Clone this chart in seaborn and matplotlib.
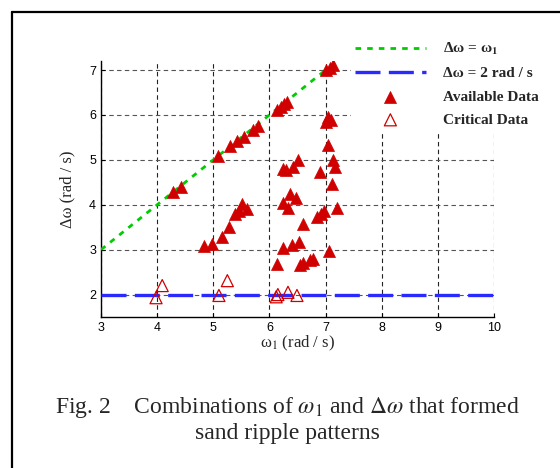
import numpy as np
import pandas as pd
import matplotlib
matplotlib.use("Agg")
import matplotlib.pyplot as plt
import seaborn as sns
from matplotlib.lines import Line2D

# data
diag_x = [4.28, 4.42, 5.08, 5.30, 5.43, 5.54, 5.70, 5.80, 6.13, 6.20, 6.26, 6.32, 7.00, 7.07, 7.13]
diag_y = [4.28, 4.40, 5.08, 5.30, 5.42, 5.50, 5.66, 5.76, 6.10, 6.18, 6.24, 6.29, 7.00, 7.05, 7.12]

other_x = [4.83, 4.98, 5.15, 5.28, 5.38, 5.45, 5.51, 5.60,
           6.13, 6.25, 6.40, 6.52, 6.55, 6.60, 6.72, 6.77, 6.60,
           6.25, 6.33, 6.48, 6.37, 6.85, 6.92, 6.97, 7.20, 7.06,
           6.25, 6.30, 6.42, 6.51, 6.90, 7.11, 7.13, 7.17, 7.04,
           7.00, 7.05, 7.10]
other_y = [3.09, 3.12, 3.28, 3.50, 3.80, 3.85, 4.02, 3.90,
           2.69, 3.03, 3.10, 3.16, 2.65, 2.70, 2.76, 2.80, 3.58,
           4.03, 3.93, 4.14, 4.25, 3.73, 3.80, 3.86, 3.93, 2.98,
           4.80, 4.78, 4.84, 5.00, 4.72, 4.47, 5.00, 4.84, 5.33,
           5.85, 5.95, 5.88]

crit_x = [3.98, 4.09, 5.10, 5.25, 6.12, 6.15, 6.33, 6.49]
crit_y = [1.93, 2.20, 1.98, 2.31, 1.95, 2.00, 2.05, 1.98]

line1_x = [3, 7]
line1_y = [3, 7]
line2_x = [3, 10]
line2_y = [2, 2]

avail = pd.DataFrame({"w1": diag_x + other_x, "dw": diag_y + other_y})
crit = pd.DataFrame({"w1": crit_x, "dw": crit_y})

sns.set_theme(style="white")
plt.rcParams["font.family"] = ["Liberation Serif", "DejaVu Serif"]
plt.rcParams["mathtext.fontset"] = "stix"

RED = "#d00000"
GREEN = "#00cc00"
BLUE = "#2a2aff"

fig = plt.figure(figsize=(5.6, 4.68), dpi=100)
ax = fig.add_axes([0.1804, 0.3226, 0.7018, 0.5470])

sns.lineplot(x=line1_x, y=line1_y, ax=ax, color=GREEN, lw=2.0,
             label="Δω = ω$_\\mathbf{1}$", zorder=3)
ax.lines[-1].set_dashes([2, 2.2])
sns.lineplot(x=line2_x, y=line2_y, ax=ax, color=BLUE, lw=2.4,
             label="Δω = 2 rad / s", zorder=3)
ax.lines[-1].set_dashes([7.5, 2.5])

sns.scatterplot(data=avail, x="w1", y="dw", ax=ax, marker="^", s=75,
                color=RED, edgecolor=RED, linewidth=0.5, label="Available Data", zorder=4)
sns.scatterplot(data=crit, x="w1", y="dw", ax=ax, marker="^", s=75,
                facecolor="none", edgecolor=RED, linewidth=0.9, label="Critical Data", zorder=4)

ax.set_xlim(3, 10)
ax.set_ylim(1.5, 7.2)
ax.set_xticks(range(3, 11))
ax.set_yticks(range(2, 8))
ax.grid(True, color="#222222", linestyle=(0, (4, 3)), lw=0.8)
for g in ax.get_ygridlines():
    g.set_color("#555555")
for s in ["top", "right"]:
    ax.spines[s].set_visible(False)
for s in ["left", "bottom"]:
    ax.spines[s].set_color("black")
    ax.spines[s].set_linewidth(1.0)
ax.tick_params(direction="in", length=3, width=0.8, labelsize=9, colors="black",
               bottom=True, left=True)
for lab in ax.get_xticklabels() + ax.get_yticklabels():
    lab.set_family("Liberation Sans")
ax.set_xlabel("ω$_1$ (rad / s)", fontsize=12, labelpad=0)
ax.set_ylabel("Δω (rad / s)", fontsize=12, labelpad=10)

ax.legend_.remove()
h, l = ax.get_legend_handles_labels()
leg = fig.legend(h, l, loc="upper left", bbox_to_anchor=(343 / 560, 1 - 29 / 468),
                 frameon=True, facecolor="white", edgecolor="none", framealpha=1,
                 prop={"size": 11, "weight": "bold"}, handlelength=4.6,
                 handletextpad=1.15, labelspacing=0.62, borderpad=0.3)
leg.set_zorder(5)

fig.text(0.514, 1 - 407 / 468,
         "Fig. 2    Combinations of $\\omega_1$ and $\\Delta\\omega$ that formed",
         ha="center", va="center", fontsize=17)
fig.text(0.514, 1 - 434 / 468, "sand ripple patterns", ha="center", va="center", fontsize=17)

# frame around the figure
fig.add_artist(Line2D([12 / 560, 1.0], [1 - 12 / 468] * 2, color="black", lw=1.6))
fig.add_artist(Line2D([12 / 560] * 2, [0.0, 1 - 12 / 468], color="black", lw=1.6))

fig.savefig("out.png", dpi=100)
